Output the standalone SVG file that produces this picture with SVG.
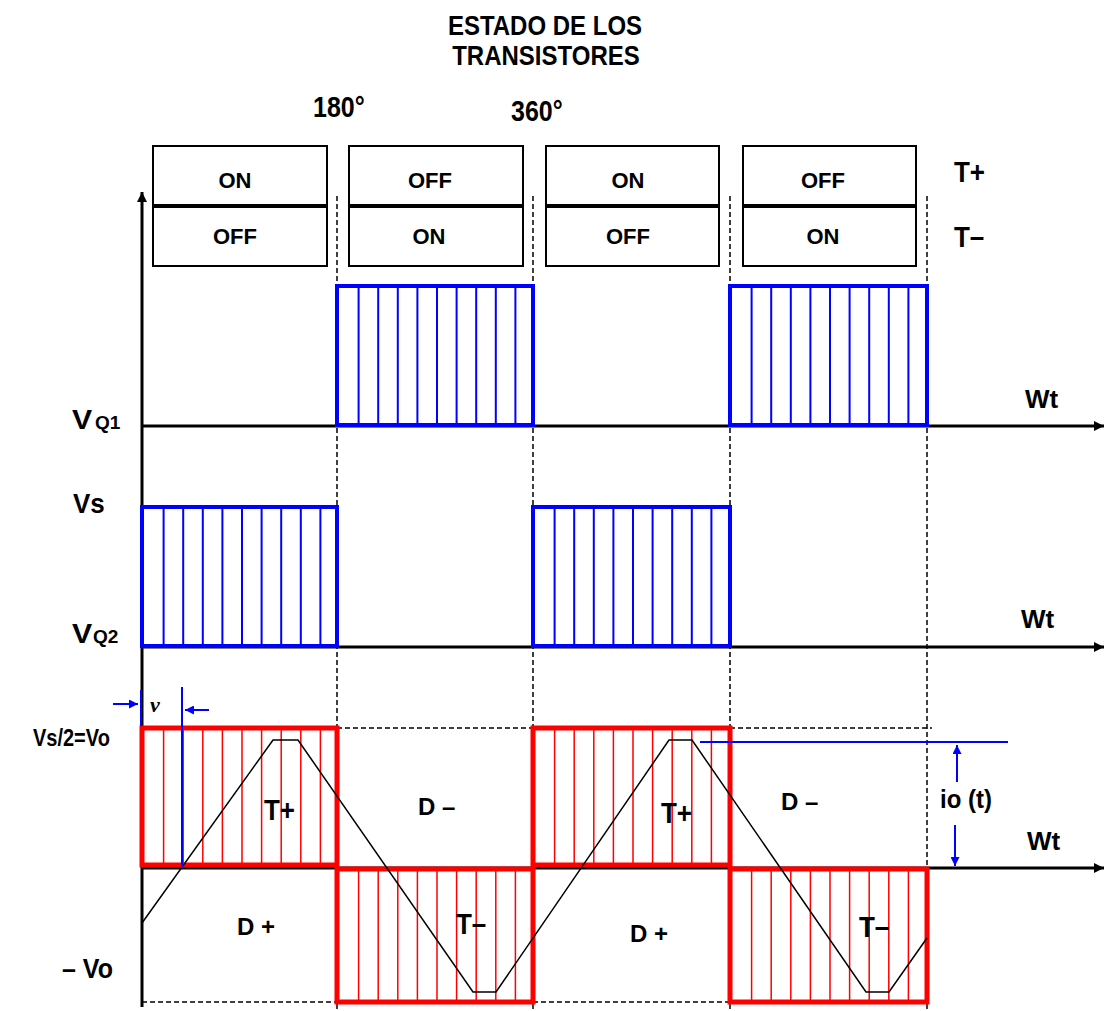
<svg xmlns="http://www.w3.org/2000/svg" width="1105" height="1011" viewBox="0 0 1105 1011">
<style>
.t{font-family:"Liberation Sans",Arial,sans-serif;font-weight:bold;fill:#000}
.box{fill:#fff;stroke:#000;stroke-width:2}
.div{stroke:#000;stroke-width:4}
.dash{stroke:#000;stroke-width:1.5;stroke-dasharray:5,3;fill:none}
.axis{stroke:#000;stroke-width:3;fill:none}
.bo{fill:none;stroke:#0000ff;stroke-width:4}
.bi{stroke:#0000ff;stroke-width:2}
.ro{fill:none;stroke:#ff0000;stroke-width:5}
.ri{stroke:#ff0000;stroke-width:1.5}
.cur{fill:none;stroke:#000;stroke-width:1.5}
.bl{stroke:#0000ff;stroke-width:2;fill:none}
</style>
<defs>
<marker id="ah" markerUnits="userSpaceOnUse" markerWidth="10" markerHeight="10" refX="10" refY="5" orient="auto"><path d="M0,0 L10,5 L0,10 z" fill="#000"/></marker>
<marker id="bh" markerUnits="userSpaceOnUse" markerWidth="9" markerHeight="9" refX="9" refY="4.5" orient="auto"><path d="M0,0 L9,4.5 L0,9 z" fill="#0000ff"/></marker>
</defs>
<rect width="1105" height="1011" fill="#fff"/>

<g id="title">
<text class="t" font-size="24" text-anchor="middle" transform="translate(545,35) scale(1,1.15)">ESTADO DE LOS</text>
<text class="t" font-size="24" text-anchor="middle" transform="translate(546,65) scale(1,1.15)">TRANSISTORES</text>
<text class="t" font-size="25" transform="translate(313,117) scale(1,1.18)">180°</text>
<text class="t" font-size="25" transform="translate(511,121) scale(1,1.18)">360°</text>
</g>

<g id="state1">
<rect class="box" x="153" y="146" width="174" height="120"/>
<line class="div" x1="153" y1="206" x2="327" y2="206"/>
<text class="t" font-size="22" text-anchor="middle" x="235" y="188">ON</text>
<text class="t" font-size="22" text-anchor="middle" x="235" y="244">OFF</text>
</g>
<g id="state2">
<rect class="box" x="349" y="146" width="174" height="120"/>
<line class="div" x1="349" y1="206" x2="523" y2="206"/>
<text class="t" font-size="22" text-anchor="middle" x="430" y="188">OFF</text>
<text class="t" font-size="22" text-anchor="middle" x="429" y="244">ON</text>
</g>
<g id="state3">
<rect class="box" x="546" y="146" width="173" height="120"/>
<line class="div" x1="546" y1="206" x2="719" y2="206"/>
<text class="t" font-size="22" text-anchor="middle" x="628" y="188">ON</text>
<text class="t" font-size="22" text-anchor="middle" x="628" y="244">OFF</text>
</g>
<g id="state4">
<rect class="box" x="743" y="146" width="173" height="120"/>
<line class="div" x1="743" y1="206" x2="916" y2="206"/>
<text class="t" font-size="22" text-anchor="middle" x="823" y="188">OFF</text>
<text class="t" font-size="22" text-anchor="middle" x="823" y="244">ON</text>
</g>
<g id="rowlabels">
<text class="t" font-size="26" transform="translate(954,182) scale(1,1.15)">T+</text>
<text class="t" font-size="26" transform="translate(954,247) scale(1,1.15)">T–</text>
</g>

<g id="connectors">
<g id="dashes">
<line class="dash" x1="337" y1="196" x2="337" y2="1011"/>
<line class="dash" x1="533" y1="196" x2="533" y2="1011"/>
<line class="dash" x1="730" y1="196" x2="730" y2="1011"/>
<line class="dash" x1="927" y1="196" x2="927" y2="1011"/>
<line class="dash" x1="337" y1="728" x2="533" y2="728"/>
<line class="dash" x1="730" y1="728" x2="932" y2="728"/>
<line class="dash" x1="142" y1="1002" x2="337" y2="1002"/>
<line class="dash" x1="533" y1="1002" x2="730" y2="1002"/>
</g>
<g id="axes">
<line class="axis" x1="142" y1="1007" x2="142" y2="192" marker-end="url(#ah)"/>
<line class="axis" x1="142" y1="426" x2="1104" y2="426" marker-end="url(#ah)"/>
<line class="axis" x1="142" y1="647" x2="1104" y2="647" marker-end="url(#ah)"/>
<line class="axis" x1="142" y1="868" x2="1104" y2="868" marker-end="url(#ah)"/>
</g>
</g>

<g id="vq1-pulses">
<rect class="bo" x="337" y="286" width="196" height="139"/>
<path class="bi" d="M358.6,286V425M378.2,286V425M397.8,286V425M417.4,286V425M437,286V425M456.6,286V425M476.2,286V425M495.8,286V425M515.4,286V425"/>
<rect class="bo" x="730" y="286" width="197" height="139"/>
<path class="bi" d="M751.6,286V425M771.2,286V425M790.8,286V425M810.4,286V425M830,286V425M849.6,286V425M869.2,286V425M888.8,286V425M908.4,286V425"/>
</g>
<g id="vq2-pulses">
<rect class="bo" x="142" y="507" width="195" height="139"/>
<path class="bi" d="M163.6,507V646M183.2,507V646M202.8,507V646M222.4,507V646M242,507V646M261.6,507V646M281.2,507V646M300.8,507V646M320.4,507V646"/>
<rect class="bo" x="533" y="507" width="197" height="139"/>
<path class="bi" d="M554.6,507V646M574.2,507V646M593.8,507V646M613.4,507V646M633,507V646M652.6,507V646M672.2,507V646M691.8,507V646M711.4,507V646"/>
</g>

<g id="vo-pulses">
<rect class="ro" x="142" y="728" width="195" height="137"/>
<path class="ri" d="M163.6,728V865M183.2,728V865M202.8,728V865M222.4,728V865M242,728V865M261.6,728V865M281.2,728V865M300.8,728V865M320.4,728V865"/>
<rect class="ro" x="337" y="869" width="196" height="133"/>
<path class="ri" d="M358.6,869V1002M378.2,869V1002M397.8,869V1002M417.4,869V1002M437,869V1002M456.6,869V1002M476.2,869V1002M495.8,869V1002M515.4,869V1002"/>
<rect class="ro" x="533" y="728" width="197" height="137"/>
<path class="ri" d="M554.6,728V865M574.2,728V865M593.8,728V865M613.4,728V865M633,728V865M652.6,728V865M672.2,728V865M691.8,728V865M711.4,728V865"/>
<rect class="ro" x="730" y="869" width="197" height="133"/>
<path class="ri" d="M751.6,869V1002M771.2,869V1002M790.8,869V1002M810.4,869V1002M830,869V1002M849.6,869V1002M869.2,869V1002M888.8,869V1002M908.4,869V1002"/>
</g>

<g id="current">
<polyline class="cur" points="142,923 273,740 298,740 473,992 496,992 669,740 692,740 866,992 889,992 927,938"/>
</g>

<g id="annotations">
<line class="bl" x1="182" y1="687" x2="182" y2="868"/>
<line class="bl" x1="141" y1="690" x2="141" y2="726" stroke-width="3"/>
<line class="bl" x1="113" y1="704" x2="138" y2="704" marker-end="url(#bh)"/>
<line class="bl" x1="209" y1="710" x2="185" y2="710" marker-end="url(#bh)"/>
<line class="bl" x1="700" y1="742" x2="1008" y2="742"/>
<line class="bl" x1="957" y1="782" x2="957" y2="745" marker-end="url(#bh)"/>
<line class="bl" x1="955" y1="825" x2="955" y2="866" marker-end="url(#bh)"/>
</g>

<g id="labels">
<text class="t" font-size="27" transform="translate(72,429) scale(1.12,1)">V</text>
<text class="t" font-size="19" x="95" y="429">Q1</text>
<text class="t" font-size="26" transform="translate(73,513) scale(1,1.08)">Vs</text>
<text class="t" font-size="27" transform="translate(72,643) scale(1.12,1)">V</text>
<text class="t" font-size="19" x="93" y="643">Q2</text>
<text class="t" font-size="26" x="1025" y="408">Wt</text>
<text class="t" font-size="26" x="1021" y="628">Wt</text>
<text class="t" font-size="26" x="1027" y="850">Wt</text>
<text class="t" font-size="20" transform="translate(33,746) scale(1,1.2)">Vs/2=Vo</text>
<text class="t" font-size="25" transform="translate(62,978) scale(1,1.1)">– Vo</text>
<text font-family="Liberation Serif,serif" font-weight="bold" font-style="italic" font-size="22" x="150" y="712">v</text>
<text class="t" font-size="26" transform="translate(264,820) scale(1,1.15)">T+</text>
<text class="t" font-size="26" transform="translate(661,823) scale(1,1.15)">T+</text>
<text class="t" font-size="24" x="418" y="815">D –</text>
<text class="t" font-size="24" x="781" y="810">D –</text>
<text class="t" font-size="24" x="237" y="935">D +</text>
<text class="t" font-size="24" x="630" y="942">D +</text>
<text class="t" font-size="26" transform="translate(456,934) scale(1,1.15)">T–</text>
<text class="t" font-size="26" transform="translate(859,937) scale(1,1.15)">T–</text>
<text class="t" font-size="24" transform="translate(940,808) scale(1,1.1)">io (t)</text>
</g>
</svg>
